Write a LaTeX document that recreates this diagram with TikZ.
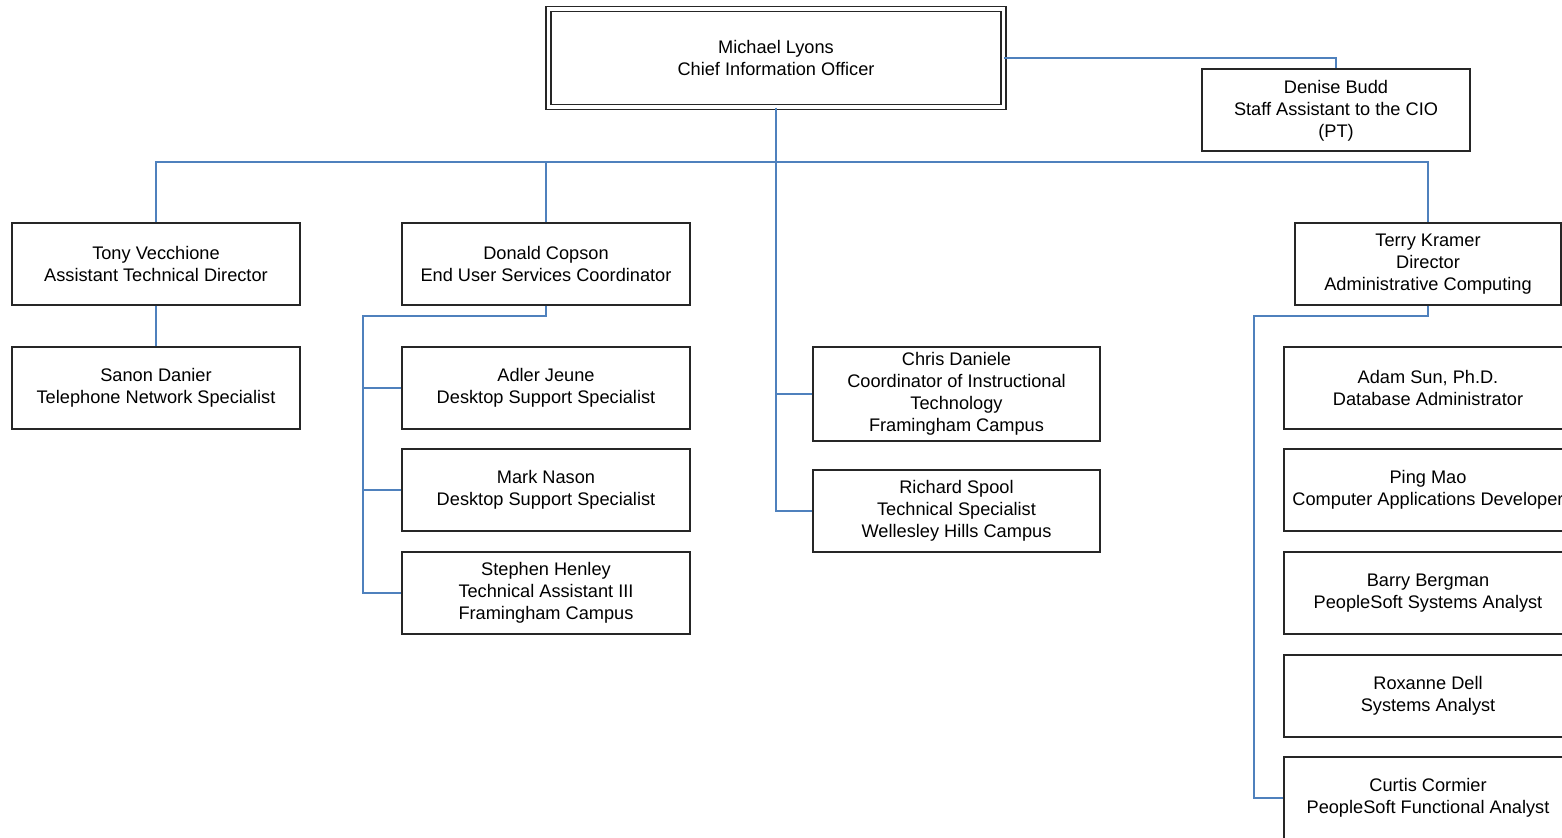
\documentclass[tikz,border=0pt]{standalone}
\usepackage{fontspec}
\setmainfont{Liberation Sans}
\definecolor{linkblue}{RGB}{79,129,189}
\begin{document}
\begin{tikzpicture}[x=0.5pt,y=-0.5pt,
  box/.style={draw=black!85,line width=0.6pt,fill=white,align=center,
    inner sep=0pt,minimum width=144pt,minimum height=41pt,
    font=\fontsize{9.1}{11}\selectfont},
  chief/.style={box,double=white,double distance=1.9pt,
    minimum width=227.5pt,minimum height=49pt},
  link/.style={draw=linkblue,line width=0.6pt}]
\fill[white] (0,0) rectangle (1562,837);
\useasboundingbox (0,0) rectangle (1562,837);

% top of the chart
\node[chief] (cio) at (776,58) {Michael Lyons\\Chief Information Officer};
\node[box,minimum width=134pt,text depth=1.5pt] (denise) at (1336,110) {Denise Budd\\Staff Assistant to the CIO\\(PT)};

% second level
\node[box] (tony)   at (156,264) {Tony Vecchione\\Assistant Technical Director};
\node[box] (donald) at (546,264) {Donald Copson\\End User Services Coordinator};
\node[box,minimum width=133pt] (terry) at (1428,264) {Terry Kramer\\Director\\Administrative Computing};

% under Tony
\node[box] (sanon) at (156,388) {Sanon Danier\\Telephone Network Specialist};

% under Donald
\node[box] (adler)   at (546,388) {Adler Jeune\\Desktop Support Specialist};
\node[box] (mark)    at (546,490) {Mark Nason\\Desktop Support Specialist};
\node[box] (stephen) at (546,593) {Stephen Henley\\Technical Assistant III\\Framingham Campus};

% directly under the CIO
\node[box,minimum width=143.5pt,minimum height=47pt] (chris) at (956.5,394) {Chris Daniele\\Coordinator of Instructional\\Technology\\Framingham Campus};
\node[box,minimum width=143.5pt] (richard) at (956.5,511) {Richard Spool\\Technical Specialist\\Wellesley Hills Campus};

% under Terry
\node[box] (adam)    at (1428,388) {Adam Sun, Ph.D.\\Database Administrator};
\node[box] (ping)    at (1428,490) {Ping Mao\\Computer Applications Developer};
\node[box] (barry)   at (1428,593) {Barry Bergman\\PeopleSoft Systems Analyst};
\node[box] (roxanne) at (1428,696) {Roxanne Dell\\Systems Analyst};
\node[box] (curtis)  at (1428,798) {Curtis Cormier\\PeopleSoft Functional Analyst};

% connectors
\coordinate (bus) at (776,162);
\coordinate (dleft) at (363,316);
\coordinate (tleft) at (1254,316);

\draw[link] (cio.east) -| (denise.north);
\draw[link] (tony.north) |- (bus) -| (terry.north);
\draw[link] (donald.north) -- (donald.north |- bus);
\draw[link] (cio.south) |- (richard.west);
\draw[link] (chris.west) -- (chris.west -| cio.south);

\draw[link] (tony.south) -- (sanon.north);

\draw[link] (donald.south) |- (dleft) |- (stephen.west);
\draw[link] (adler.west) -- (adler.west -| dleft);
\draw[link] (mark.west) -- (mark.west -| dleft);

\draw[link] (terry.south) |- (tleft) |- (curtis.west);
\end{tikzpicture}
\end{document}
